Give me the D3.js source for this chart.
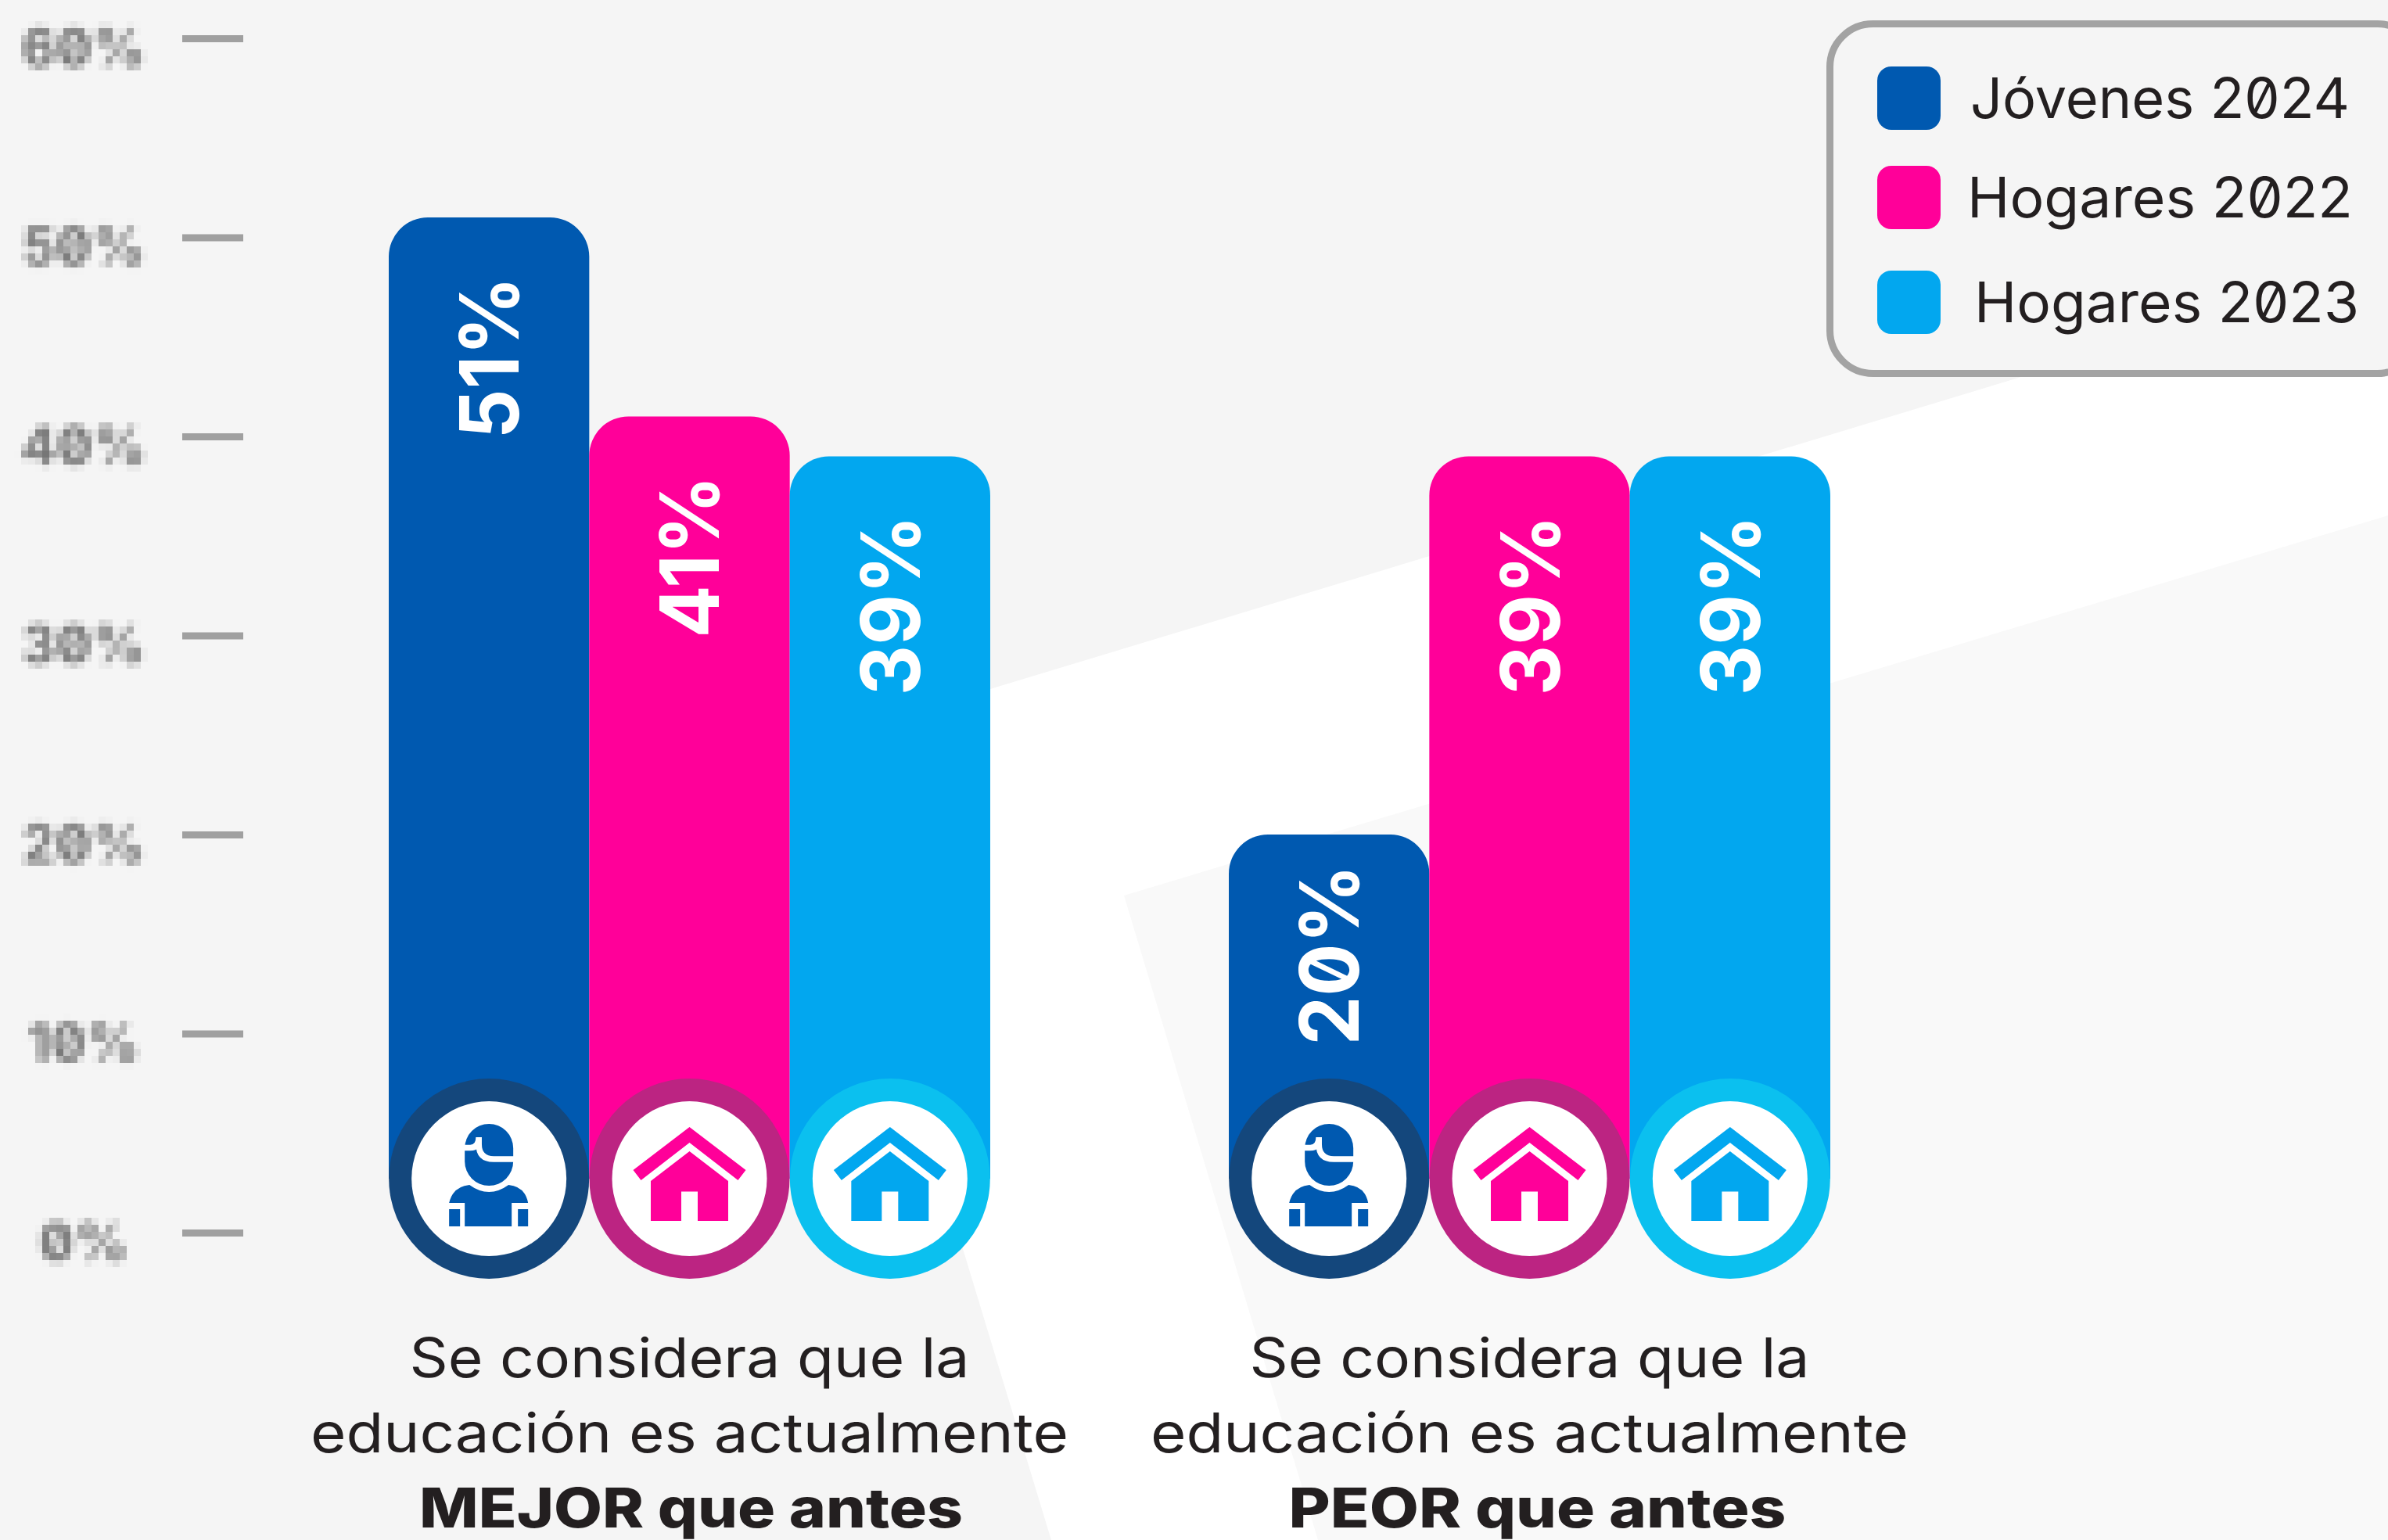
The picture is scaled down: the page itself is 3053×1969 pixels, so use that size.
<!DOCTYPE html>
<html>
<head>
<meta charset="utf-8">
<script src="https://cdn.jsdelivr.net/npm/d3@7"></script>
<style>
  html, body { margin: 0; padding: 0; background: #f5f5f5; }
  svg { display: block; }
  text {
    font-family: Inter, "Noto Sans", sans-serif;
    font-feature-settings: "zero" 1;
    fill: #231f20;
  }
  .bar-value { fill: #fff; font-weight: 700; font-size: 104px; }
  .legend-label { font-size: 71px; }
  .caption { font-size: 70px; text-anchor: middle; }
  .caption-bold { font-weight: 800; }
  .axis-labels .tick text { fill: #727272; font-size: 68px; font-weight: 700; text-anchor: middle; }
</style>
</head>
<body>
<div id="wrapper"></div>
<script>
const groups = ["MEJOR que antes", "PEOR que antes"]
const series = ["Jóvenes 2024", "Hogares 2022", "Hogares 2023"]
const mejorValues = [51, 41, 39]
const peorValues = [20, 39, 39]
const axisTicks = [0, 10, 20, 30, 40, 50, 60]
const captionLines = ["Se considera que la", "educación es actualmente"]

const barColors = ["#0059b0", "#ff0099", "#02a7ef"]
const ringColors = ["#14477c", "#bc2482", "#0bc0ef"]
const seriesIcons = ["person", "house", "house"]

// the source font is wider than Inter, so text widths are fitted to it
const captionWidths = [716, 969]
const groupTitleWidths = [695, 636]
const groupTitleShift = [2, 10]
const legendWidths = [485, 493, 492]

const dimensions = { width: 3053, height: 1969 }

const wrapper = d3.select("#wrapper")
  .append("svg")
  .attr("width", dimensions.width)
  .attr("height", dimensions.height)

// mosaic filter for the axis labels, they are pixelated in the source
const filter = wrapper.append("defs").append("filter")
  .attr("id", "pixelate")
  .attr("filterUnits", "userSpaceOnUse")
  .attr("primitiveUnits", "userSpaceOnUse")
  .attr("x", -107).attr("y", 0)
  .attr("width", 320).attr("height", dimensions.height)
  .attr("color-interpolation-filters", "sRGB")
filter.append("feGaussianBlur").attr("in", "SourceGraphic").attr("stdDeviation", 3).attr("result", "soft")
filter.append("feFlood").attr("x", -103).attr("y", 4).attr("width", 1).attr("height", 1).attr("flood-color", "#000")
filter.append("feComposite").attr("x", -107).attr("y", 0).attr("width", 9).attr("height", 9).attr("result", "cell")
filter.append("feTile").attr("in", "cell").attr("result", "grid")
filter.append("feComposite").attr("in", "soft").attr("in2", "grid").attr("operator", "in")
filter.append("feMorphology").attr("operator", "dilate").attr("radius", 4)

// background shapes
const background = wrapper.append("g")
background.append("rect")
  .attr("width", dimensions.width).attr("height", dimensions.height)
  .attr("fill", "#fff")
background.append("path")
  .attr("d", "M0,0H3053V340L1035,951L1344,1969H0Z")
  .attr("fill", "#f5f5f5")
background.append("path")
  .attr("d", "M1437,1145L3053,659V1969H1685Z")
  .attr("fill", "#f9f9f9")

const yScale = d3.scaleLinear()
  .domain([0, 60])
  .range([1576, 49])

const xGroup = d3.scaleBand()
  .domain(groups)
  .range([497, 2340])
  .paddingInner(0.284)

const xSeries = d3.scaleBand()
  .domain(series)
  .range([0, xGroup.bandwidth()])

const valuesByGroup = [mejorValues, peorValues]

// y axis, tick marks and labels go in two calls so only the labels get the filter
const tickAxis = wrapper.append("g")
  .attr("transform", "translate(311,0)")
  .call(d3.axisLeft(yScale).tickValues(axisTicks).tickFormat("").tickSize(78))
tickAxis.select(".domain").remove()
tickAxis.selectAll(".tick line")
  .attr("stroke", "#a0a0a0")
  .attr("stroke-width", 9)

const labelAxis = wrapper.append("g")
  .attr("class", "axis-labels")
  .attr("transform", "translate(107,0)")
  .attr("filter", "url(#pixelate)")
  .call(d3.axisLeft(yScale).tickValues(axisTicks).tickFormat(d => `${d}%`).tickSize(0).tickPadding(0))
labelAxis.select(".domain").remove()
labelAxis.selectAll(".tick line").remove()
labelAxis.selectAll(".tick text")
  .attr("dy", null)
  .attr("y", 35)

const iconCenterOffset = 69
const ringRadius = 128
const cornerRadius = 50
const iconCenterY = yScale(0) - iconCenterOffset

const barPath = (x, y, width, bottom) => {
  const path = d3.path()
  path.moveTo(x, bottom)
  path.lineTo(x, y + cornerRadius)
  path.arcTo(x, y, x + cornerRadius, y, cornerRadius)
  path.lineTo(x + width - cornerRadius, y)
  path.arcTo(x + width, y, x + width, y + cornerRadius, cornerRadius)
  path.lineTo(x + width, bottom)
  path.closePath()
  return path.toString()
}

const drawPerson = (g, color) => {
  g.append("path")
    .attr("fill", color)
    .attr("d", "M-31,-39A31,31 0 0 1 31,-39V-22A31,31 0 0 1 -31,-22Z")
  g.append("path")
    .attr("fill", "none")
    .attr("stroke", "#fff")
    .attr("stroke-width", 7.6)
    .attr("d", "M-34,-39.5H-24Q-13,-39.5 -13,-53V-44Q-13,-25 6,-25H34")
  g.append("path")
    .attr("fill", color)
    .attr("d", "M-25,8Q0,26 25,8Q46,10 50,31H29V61H-31V31H-51Q-46,10 -25,8Z")
  g.append("rect").attr("fill", color).attr("x", -51).attr("y", 39).attr("width", 14).attr("height", 22)
  g.append("rect").attr("fill", color).attr("x", 37).attr("y", 39).attr("width", 13).attr("height", 22)
}

const drawHouse = (g, color) => {
  g.append("path")
    .attr("fill", color)
    .attr("d", "M0,-66L72,-11L62,2L0,-46L-62,2L-72,-11Z")
  g.append("path")
    .attr("fill", color)
    .attr("d", "M0,-35L49.5,3V54H10.5V16.5H-10.5V54H-49.5V3Z")
}

const bounds = wrapper.append("g")

const groupNodes = bounds.selectAll(".group")
  .data(groups)
  .enter().append("g")
  .attr("class", "group")
  .attr("transform", d => `translate(${xGroup(d)},0)`)

groupNodes.each(function(group, groupIndex) {
  const node = d3.select(this)
  const rows = series.map((name, i) => ({
    name, i, value: valuesByGroup[groupIndex][i],
  }))

  node.selectAll(".bar")
    .data(rows)
    .enter().append("path")
    .attr("class", "bar")
    .attr("fill", d => barColors[d.i])
    .attr("d", d => barPath(xSeries(d.name), yScale(d.value), xSeries.bandwidth(), iconCenterY))

  node.selectAll(".bar-value")
    .data(rows)
    .enter().append("text")
    .attr("class", "bar-value")
    .attr("text-anchor", "end")
    .attr("transform", d => {
      const gap = d.value < 30 ? 38 : 75
      const x = xSeries(d.name) + xSeries.bandwidth() / 2 + 38
      return `translate(${x},${yScale(d.value) + gap}) rotate(-90) scale(0.96,1)`
    })
    .text(d => `${d.value}%`)

  const icons = node.selectAll(".icon")
    .data(rows)
    .enter().append("g")
    .attr("class", "icon")
    .attr("transform", d => `translate(${xSeries(d.name) + xSeries.bandwidth() / 2},${iconCenterY})`)

  icons.append("circle")
    .attr("r", ringRadius)
    .attr("fill", d => ringColors[d.i])
  icons.append("circle")
    .attr("r", 99)
    .attr("fill", "#fff")
  icons.each(function(d) {
    if (seriesIcons[d.i] == "person") drawPerson(d3.select(this), barColors[d.i])
    else drawHouse(d3.select(this), barColors[d.i])
  })

  const center = xGroup.bandwidth() / 2
  node.append("text")
    .attr("class", "caption")
    .attr("x", center)
    .attr("y", 1761)
    .attr("textLength", captionWidths[0])
    .attr("lengthAdjust", "spacingAndGlyphs")
    .text(captionLines[0])
  node.append("text")
    .attr("class", "caption")
    .attr("x", center)
    .attr("y", 1857)
    .attr("textLength", captionWidths[1])
    .attr("lengthAdjust", "spacingAndGlyphs")
    .text(captionLines[1])
  node.append("text")
    .attr("class", "caption caption-bold")
    .attr("x", center + groupTitleShift[groupIndex])
    .attr("y", 1953)
    .attr("textLength", groupTitleWidths[groupIndex])
    .attr("lengthAdjust", "spacingAndGlyphs")
    .text(group)
})

// legend
const legend = wrapper.append("g")
legend.append("rect")
  .attr("x", 2339.5)
  .attr("y", 30.5)
  .attr("width", 755)
  .attr("height", 447)
  .attr("rx", 55)
  .attr("fill", "#f5f5f5")
  .attr("stroke", "#a3a3a3")
  .attr("stroke-width", 9)

const legendY = d3.scaleOrdinal().domain(series).range([85, 212, 346])
const legendX = d3.scaleOrdinal().domain(series).range([2519, 2515, 2524])

legend.selectAll(".swatch")
  .data(series)
  .enter().append("rect")
  .attr("class", "swatch")
  .attr("x", 2400)
  .attr("y", d => legendY(d))
  .attr("width", 81)
  .attr("height", 81)
  .attr("rx", 18)
  .attr("fill", (d, i) => barColors[i])

legend.selectAll(".legend-label")
  .data(series)
  .enter().append("text")
  .attr("class", "legend-label")
  .attr("x", d => legendX(d))
  .attr("y", d => legendY(d) + 66)
  .attr("textLength", (d, i) => legendWidths[i])
  .attr("lengthAdjust", "spacingAndGlyphs")
  .text(d => d)
</script>
</body>
</html>
